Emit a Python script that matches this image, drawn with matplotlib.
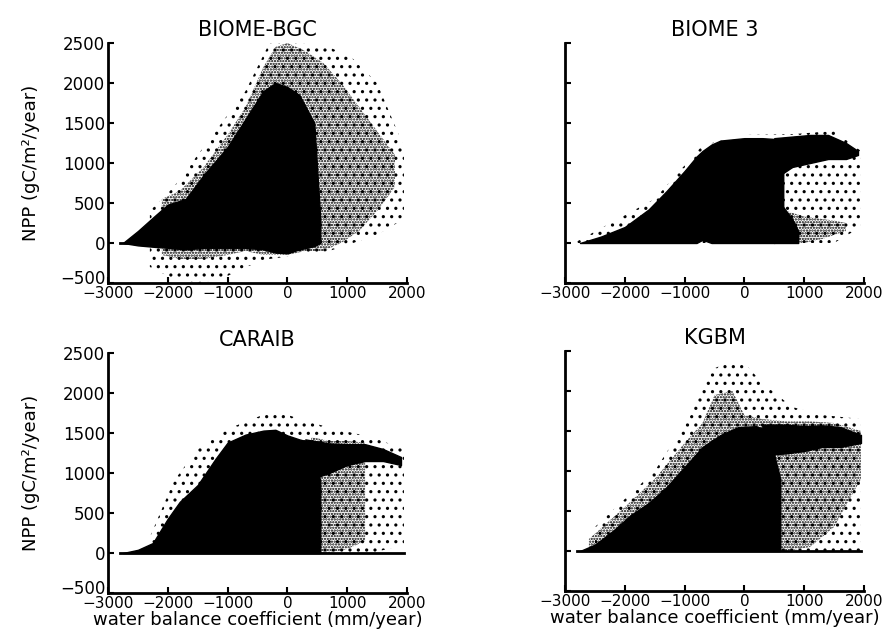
import matplotlib
matplotlib.use("Agg")
import matplotlib.pyplot as plt
from matplotlib.transforms import ScaledTranslation

plt.rcParams['font.family'] = ['DejaVu Sans']
plt.rcParams['hatch.linewidth'] = 1.1

# x ticks / y ticks
xticks = [-3000, -2000, -1000, 0, 1000, 2000]
yticks = [-500, 0, 500, 1000, 1500, 2000, 2500]

# BIOME-BGC  (envelopes of the point cloud)
bgc_solid_x = [-2750, -2500, -2200, -2000, -1700, -1400, -1000, -700, -400, -200, 0, 200, 450, 550]
bgc_solid_hi = [0, 150, 350, 480, 550, 850, 1200, 1550, 1900, 2000, 1950, 1850, 1500, 300]
bgc_solid_lo = [0, -30, -50, -60, -80, -60, -60, -60, -80, -120, -130, -80, -40, 0]
bgc_dense_x = [-2100, -1800, -1400, -1000, -700, -400, -200, 0, 300, 600, 900, 1200, 1500, 1800]
bgc_dense_hi = [550, 650, 950, 1350, 1700, 2200, 2450, 2500, 2400, 2250, 2000, 1700, 1400, 1100]
bgc_dense_lo = [-150, -200, -200, -150, -100, -150, -150, -150, -100, -100, 0, 150, 400, 700]
bgc_sparse_x = [-2300, -1900, -1500, -1100, -700, -300, 200, 700, 1100, 1500, 1950]
bgc_sparse_hi = [400, 700, 1100, 1500, 1900, 2500, 2500, 2450, 2300, 2000, 1200]
bgc_sparse_lo = [-300, -450, -500, -450, -300, -200, -150, -100, 0, 100, 300]
bgc_zero_x = [-2800, -2500]

# BIOME 3
b3_solid_x = [-2750, -2400, -2000, -1600, -1300, -1000, -800, -700, -550, -400, 0, 300, 500, 650]
b3_solid_hi = [0, 80, 200, 420, 650, 900, 1080, 1150, 1230, 1280, 1310, 1310, 1300, 1300]
b3_solid_lo = [0, 0, 0, 0, 0, 0, 0, 40, 0, 0, 0, 0, 0, 450]
b3_upper_x = [500, 800, 1100, 1400, 1700, 1900]
b3_upper_hi = [1310, 1330, 1350, 1350, 1250, 1150]
b3_upper_lo = [800, 950, 1000, 1050, 1050, 1100]
b3_lowsolid_x = [500, 650, 800, 900]
b3_lowsolid_hi = [500, 450, 300, 150]
b3_lowsolid_lo = [0, 0, 0, 0]
b3_lower_x = [700, 1000, 1300, 1500, 1700]
b3_lower_hi = [400, 330, 300, 280, 250]
b3_lower_lo = [0, 0, 50, 100, 150]
b3_sparse_x = [-2800, -1500, -700, 0, 800, 1500, 1950]
b3_sparse_hi = [20, 550, 1220, 1350, 1360, 1400, 1150]
b3_sparse_lo = [0, 0, 0, 0, 0, 0, 200]

# CARAIB
car_solid_x = [-2750, -2500, -2250, -2000, -1800, -1500, -1200, -1000, -700, -400, -200, 0, 200, 400, 550]
car_solid_hi = [0, 40, 125, 430, 640, 850, 1180, 1380, 1480, 1530, 1540, 1470, 1420, 1380, 900]
car_solid_lo = [0] * 15
car_upper_x = [300, 700, 1000, 1300, 1600, 1900]
car_upper_hi = [1420, 1370, 1360, 1360, 1300, 1200]
car_upper_lo = [900, 1000, 1100, 1150, 1150, 1100]
car_dense_x = [400, 700, 1000, 1300]
car_dense_hi = [1450, 1400, 1400, 1380]
car_dense_lo = [0, 0, 50, 150]
car_sparse_x = [-2300, -1900, -1500, -1000, -500, -200, 300, 800, 1400, 1950]
car_sparse_hi = [200, 900, 1300, 1550, 1700, 1780, 1650, 1550, 1450, 1300]
car_sparse_lo = [0, 0, 0, 0, 0, 0, 0, 0, 0, 100]
car_zero_x = [-2800, 1950]

# KGBM
kg_solid_x = [-2750, -2500, -2200, -1900, -1600, -1300, -1000, -700, -400, -100, 200, 400, 600]
kg_solid_hi = [0, 80, 250, 450, 600, 800, 1050, 1300, 1450, 1550, 1560, 1500, 900]
kg_solid_lo = [0] * 13
kg_upper_x = [300, 700, 1000, 1300, 1600, 1950]
kg_upper_hi = [1580, 1580, 1560, 1570, 1550, 1450]
kg_upper_lo = [1200, 1220, 1250, 1300, 1300, 1350]
kg_dense_x = [-2600, -2000, -1500, -1000, -700, -500, -200, 0, 300, 700, 1100, 1500, 1950]
kg_dense_hi = [150, 550, 900, 1350, 1600, 1950, 2000, 1700, 1650, 1620, 1620, 1600, 1500]
kg_dense_lo = [0, 0, 0, 0, 0, 0, 0, 0, 0, 0, 50, 300, 900]
kg_sparse_x = [-2500, -1500, -900, -600, -300, 0, 300, 800, 1300, 1950]
kg_sparse_hi = [300, 1000, 1700, 2250, 2350, 2350, 2100, 1800, 1700, 1650]
kg_sparse_lo = [0] * 10
kg_zero_x = [-2800, 1950]

titles = ['BIOME-BGC', 'BIOME 3', 'CARAIB', 'KGBM']


def solid(ax, x, lo, hi):
    ax.fill_between(x, lo, hi, facecolor='black', edgecolor='black', linewidth=1)


def speckle(ax, x, lo, hi, pattern):
    ax.fill_between(x, lo, hi, facecolor='none', edgecolor='black',
                    linewidth=0, hatch=pattern)


def zero_line(ax, x):
    ax.plot(x, [0] * len(x), color='black', linewidth=2)


fig = plt.figure(figsize=(8.95, 6.29), dpi=100)
w, h = 0.334, 0.3816
ax1 = fig.add_axes([0.1207, 0.5501, w, h])
ax2 = fig.add_axes([0.6313, 0.5501, w, h])
ax3 = fig.add_axes([0.1207, 0.0572, w, h])
ax4 = fig.add_axes([0.6313, 0.0604, w, h])

# BIOME-BGC
speckle(ax1, bgc_sparse_x, bgc_sparse_lo, bgc_sparse_hi, '..')
speckle(ax1, bgc_dense_x, bgc_dense_lo, bgc_dense_hi, '......')
solid(ax1, bgc_solid_x, bgc_solid_lo, bgc_solid_hi)
zero_line(ax1, bgc_zero_x)

# BIOME 3
speckle(ax2, b3_sparse_x, b3_sparse_lo, b3_sparse_hi, '..')
speckle(ax2, b3_lower_x, b3_lower_lo, b3_lower_hi, '......')
solid(ax2, b3_solid_x, b3_solid_lo, b3_solid_hi)
solid(ax2, b3_upper_x, b3_upper_lo, b3_upper_hi)
solid(ax2, b3_lowsolid_x, b3_lowsolid_lo, b3_lowsolid_hi)

# CARAIB
speckle(ax3, car_sparse_x, car_sparse_lo, car_sparse_hi, '..')
speckle(ax3, car_dense_x, car_dense_lo, car_dense_hi, '......')
solid(ax3, car_solid_x, car_solid_lo, car_solid_hi)
solid(ax3, car_upper_x, car_upper_lo, car_upper_hi)
zero_line(ax3, car_zero_x)

# KGBM
speckle(ax4, kg_sparse_x, kg_sparse_lo, kg_sparse_hi, '..')
speckle(ax4, kg_dense_x, kg_dense_lo, kg_dense_hi, '......')
solid(ax4, kg_solid_x, kg_solid_lo, kg_solid_hi)
solid(ax4, kg_upper_x, kg_upper_lo, kg_upper_hi)
zero_line(ax4, kg_zero_x)

for i, ax in enumerate([ax1, ax2, ax3, ax4]):
    ax.set_xlim(-3000, 2000)
    ax.set_ylim(-500, 2500)
    ax.set_xticks(xticks)
    ax.set_yticks(yticks)
    ax.spines['top'].set_visible(False)
    ax.spines['right'].set_visible(False)
    ax.spines['left'].set_linewidth(2)
    ax.spines['bottom'].set_linewidth(2)
    ax.tick_params(direction='in', length=4, width=1.5, pad=2)
    ax.tick_params(axis='x', labelsize=11)
    ax.tick_params(axis='y', labelsize=12)
    ax.set_title(titles[i], fontsize=15, pad=5)
    if i in (1, 3):
        ax.tick_params(axis='y', labelleft=False)
    else:
        ax.set_ylabel('NPP (gC/m²/year)', fontsize=13, labelpad=14)
        # lift the -500 label a little so it clears the -3000 label
        lab = ax.get_yticklabels()[0]
        lab.set_transform(lab.get_transform() + ScaledTranslation(0, 4 / 72, fig.dpi_scale_trans))
    if i in (2, 3):
        ax.set_xlabel('water balance coefficient (mm/year)', fontsize=13, labelpad=0)

fig.savefig('out.png', dpi=100)
